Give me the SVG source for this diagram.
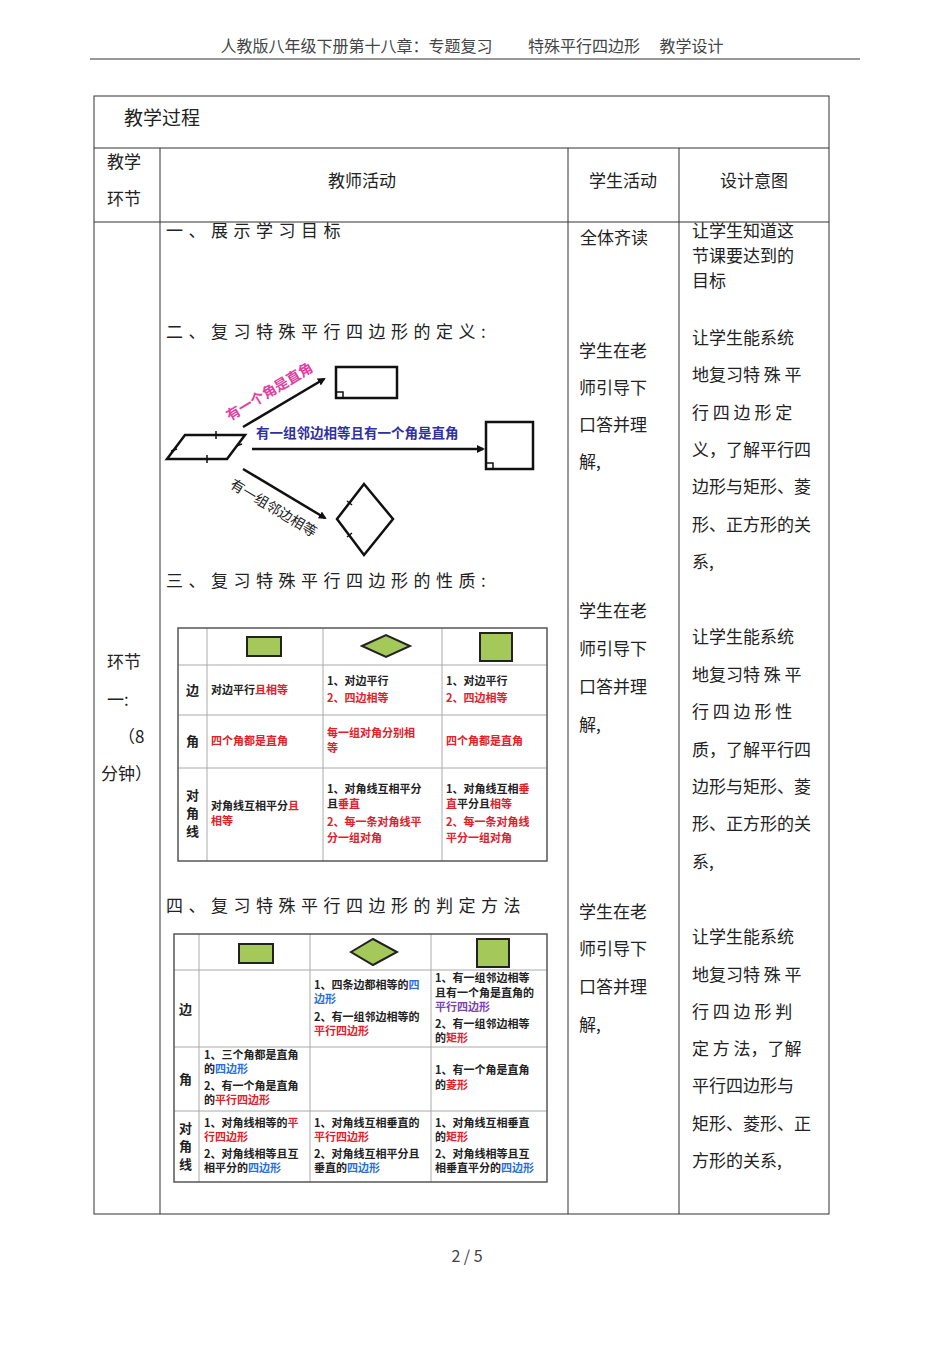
<svg xmlns="http://www.w3.org/2000/svg" width="950" height="1345" viewBox="0 0 950 1345">
<style>
text{font-family:"Noto Sans CJK SC","Liberation Sans",sans-serif;fill:#222}
.m{font-size:17px}
.sp{font-size:17px;letter-spacing:5.5px}
.t{font-size:11px;font-weight:bold}
.h{font-size:13px;font-weight:bold}
.r{fill:#e0202a}.b{fill:#2a6fd8}.p{fill:#8040b0}
.ln{stroke:#333;stroke-width:1;fill:none}
.tb{stroke:#555;stroke-width:1.5;fill:none}
.tc{stroke:#aaa;stroke-width:1;fill:none}
.g{fill:#a4c85a;stroke:#222;stroke-width:2}
.sh{fill:none;stroke:#111;stroke-width:2.5}
.ar{stroke:#111;stroke-width:2.5;fill:none;marker-end:url(#ah)}
</style>
<defs><marker id="ah" markerWidth="8" markerHeight="8" refX="6" refY="4" orient="auto" markerUnits="userSpaceOnUse"><path d="M0,0L8,4L0,8z" fill="#111"/></marker></defs>
<rect width="950" height="1345" fill="#fff"/>
<text x="472" y="52" text-anchor="middle" style="font-size:16px;fill:#444">人教版八年级下册第十八章：专题复习　　 特殊平行四边形　 教学设计</text>
<line x1="90" y1="59" x2="860" y2="59" stroke="#333"/>
<g id="frame" class="ln">
<rect x="94" y="96" width="735" height="1118"/>
<line x1="94" y1="148" x2="829" y2="148"/>
<line x1="94" y1="222" x2="829" y2="222"/>
<line x1="160" y1="148" x2="160" y2="1214"/>
<line x1="568" y1="148" x2="568" y2="1214"/>
<line x1="679" y1="148" x2="679" y2="1214"/>
</g>
<text x="124" y="125" style="font-size:19px">教学过程</text>
<text x="107" y="168" class="m">教学</text><text x="107" y="205" class="m">环节</text>
<text x="362" y="187" class="m" text-anchor="middle">教师活动</text>
<text x="623" y="187" class="m" text-anchor="middle">学生活动</text>
<text x="754" y="187" class="m" text-anchor="middle">设计意图</text>
<text x="107" y="668" class="m">环节</text><text x="107" y="706" class="m">一:</text><text x="118" y="743" class="m">（8</text><text x="101" y="780" class="m">分钟）</text>
<text x="166" y="237" class="sp">一、展示学习目标</text>
<text x="166" y="338" class="sp">二、复习特殊平行四边形的定义:</text>
<text x="166" y="587" class="sp">三、复习特殊平行四边形的性质:</text>
<text x="166" y="912" class="sp">四、复习特殊平行四边形的判定方法</text>
<g class="m"><text x="580" y="244">全体齐读</text>
<text x="579" y="357">学生在老</text><text x="579" y="394">师引导下</text><text x="579" y="431">口答并理</text><text x="579" y="468">解,</text>
<text x="579" y="617">学生在老</text><text x="579" y="655">师引导下</text><text x="579" y="693">口答并理</text><text x="579" y="731">解,</text>
<text x="579" y="918">学生在老</text><text x="579" y="955">师引导下</text><text x="579" y="993">口答并理</text><text x="579" y="1031">解,</text>
<text x="692" y="237">让学生知道这</text><text x="692" y="262">节课要达到的</text><text x="692" y="287">目标</text>
<text x="692" y="344">让学生能系统</text><text x="692" y="381">地复习特 殊 平</text><text x="692" y="419">行 四 边 形 定</text><text x="692" y="456">义，了解平行四</text><text x="692" y="493">边形与矩形、菱</text><text x="692" y="531">形、正方形的关</text><text x="692" y="568">系,</text>
<text x="692" y="643">让学生能系统</text><text x="692" y="681">地复习特 殊 平</text><text x="692" y="718">行 四 边 形 性</text><text x="692" y="756">质，了解平行四</text><text x="692" y="793">边形与矩形、菱</text><text x="692" y="830">形、正方形的关</text><text x="692" y="868">系,</text>
<text x="692" y="943">让学生能系统</text><text x="692" y="981">地复习特 殊 平</text><text x="692" y="1018">行 四 边 形 判</text><text x="692" y="1055">定 方 法，了解</text><text x="692" y="1092">平行四边形与</text><text x="692" y="1130">矩形、菱形、正</text><text x="692" y="1167">方形的关系,</text></g>
<g id="parallelogram"><path class="sh" d="M167,459L185,435L245,435L227,459Z"/><path d="M216,431v8M207,455v8M171,451l6,-2M236,446l6,-2" stroke="#111" stroke-width="1.5"/></g>
<g id="rect1"><rect class="sh" x="336" y="367" width="61" height="31"/><rect x="336" y="392" width="7" height="6" fill="none" stroke="#111" stroke-width="1.5"/></g>
<g id="square1"><rect class="sh" x="486" y="422" width="47" height="47"/><rect x="486" y="463" width="7" height="6" fill="none" stroke="#111" stroke-width="1.5"/></g>
<g id="rhombus1"><path class="sh" d="M364,484L393,519L364,555L337,519Z"/><path d="M347,501l5,4M347,537l5,-4" stroke="#111" stroke-width="1.5"/></g>
<g id="connectors"><path class="ar" d="M243,427L324,379"/><path class="ar" d="M252,449L483,449"/><path class="ar" d="M243,469L325,518"/></g>
<text transform="translate(230,421) rotate(-31)" style="font-size:14px;font-weight:bold;fill:#e040a0">有一个角是直角</text>
<text x="256" y="438" style="font-size:13.5px;font-weight:bold;fill:#3030a0">有一组邻边相等且有一个角是直角</text>
<text transform="translate(229,487) rotate(31)" style="font-size:14px">有一组邻边相等</text>
<g id="table1">
<path class="tc" d="M178,665H547M178,715H547M178,768H547M207,628V861M323,628V861M442,628V861"/>
<rect class="tb" x="178" y="628" width="369" height="233"/>
<rect class="g" x="247" y="637" width="34" height="19"/><path class="g" d="M362,646L386,635L410,646L386,657Z"/><rect class="g" x="480" y="633" width="32" height="28"/>
<g class="h"><text x="186" y="695">边</text><text x="186" y="746">角</text><text x="186" y="800">对</text><text x="186" y="818">角</text><text x="186" y="836">线</text></g>
<g class="t">
<text x="211" y="694">对边平行<tspan class="r">且相等</tspan></text>
<text x="327" y="685">1、对边平行</text><text x="327" y="702" class="r">2、四边相等</text>
<text x="446" y="685">1、对边平行</text><text x="446" y="702" class="r">2、四边相等</text>
<text x="211" y="745" class="r">四个角都是直角</text>
<text x="327" y="737" class="r">每一组对角分别相</text><text x="327" y="752" class="r">等</text>
<text x="446" y="745" class="r">四个角都是直角</text>
<text x="211" y="810">对角线互相平分<tspan class="r">且</tspan></text><text x="211" y="825" class="r">相等</text>
<text x="327" y="793">1、对角线互相平分</text><text x="327" y="808">且<tspan class="r">垂直</tspan></text><text x="327" y="826" class="r">2、每一条对角线平</text><text x="327" y="842" class="r">分一组对角</text>
<text x="446" y="793">1、对角线互相<tspan class="r">垂</tspan></text><text x="446" y="808"><tspan class="r">直</tspan>平分且<tspan class="r">相等</tspan></text><text x="446" y="826" class="r">2、每一条对角线</text><text x="446" y="842" class="r">平分一组对角</text></g>
</g>
<g id="table2">
<path class="tc" d="M174,970H547M174,1047H547M174,1111H547M199,934V1182M310,934V1182M431,934V1182"/>
<rect class="tb" x="174" y="934" width="373" height="248"/>
<rect class="g" x="239" y="944" width="34" height="19"/><path class="g" d="M351,952L373,939L397,952L373,965Z"/><rect class="g" x="477" y="939" width="32" height="28"/>
<g class="h"><text x="179" y="1014">边</text><text x="179" y="1084">角</text><text x="179" y="1133">对</text><text x="179" y="1151">角</text><text x="179" y="1169">线</text></g>
<g class="t">
<text x="314" y="989">1、四条边都相等的<tspan class="b">四</tspan></text><text x="314" y="1003" class="b">边形</text><text x="314" y="1021">2、有一组邻边相等的</text><text x="314" y="1035" class="r">平行四边形</text>
<text x="435" y="982">1、有一组邻边相等</text><text x="435" y="997">且有一个角是直角的</text><text x="435" y="1011" class="p">平行四边形</text><text x="435" y="1028">2、有一组邻边相等</text><text x="435" y="1042">的<tspan class="r">矩形</tspan></text>
<text x="204" y="1059">1、三个角都是直角</text><text x="204" y="1073">的<tspan class="b">四边形</tspan></text><text x="204" y="1090">2、有一个角是直角</text><text x="204" y="1104">的<tspan class="r">平行四边形</tspan></text>
<text x="435" y="1074">1、有一个角是直角</text><text x="435" y="1089">的<tspan class="r">菱形</tspan></text>
<text x="204" y="1127">1、对角线相等的<tspan class="r">平</tspan></text><text x="204" y="1141" class="r">行四边形</text><text x="204" y="1158">2、对角线相等且互</text><text x="204" y="1172">相平分的<tspan class="b">四边形</tspan></text>
<text x="314" y="1127">1、对角线互相垂直的</text><text x="314" y="1141" class="r">平行四边形</text><text x="314" y="1158">2、对角线互相平分且</text><text x="314" y="1172">垂直的<tspan class="b">四边形</tspan></text>
<text x="435" y="1127">1、对角线互相垂直</text><text x="435" y="1141">的<tspan class="r">矩形</tspan></text><text x="435" y="1158">2、对角线相等且互</text><text x="435" y="1172">相垂直平分的<tspan class="b">四边形</tspan></text></g>
</g>
<text x="467" y="1262" text-anchor="middle" style="font-size:16px;fill:#444">2 / 5</text>
</svg>
